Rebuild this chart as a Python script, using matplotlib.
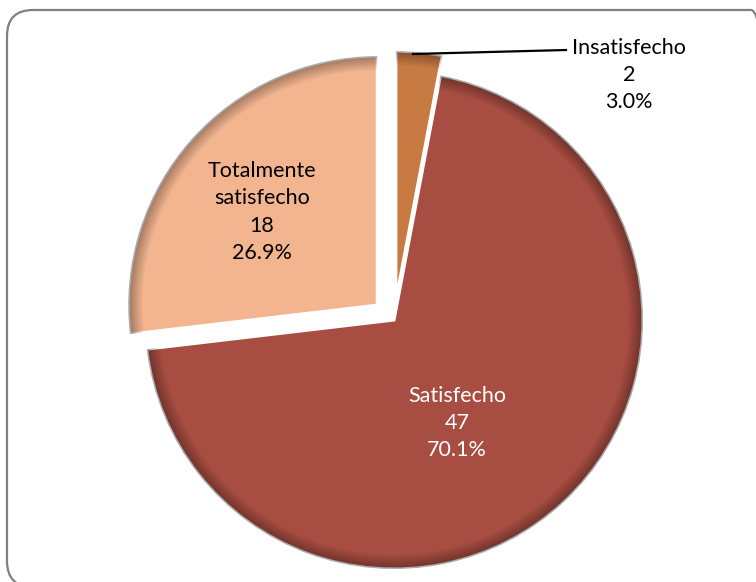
import matplotlib
matplotlib.use("Agg")
import numpy as np
import matplotlib.pyplot as plt
from matplotlib.patches import FancyBboxPatch

categories = ["Insatisfecho", "Satisfecho", "Totalmente\nsatisfecho"]
counts = [2, 47, 18]
percents = ["3.0%", "70.1%", "26.9%"]
colors = ["#C77A42", "#A84D41", "#F3B590"]
explode_frac = [0.08, 0.0, 0.09]

W, H = 756, 582
fig = plt.figure(figsize=(W / 100, H / 100), dpi=100)
ax = fig.add_axes([0, 0, 1, 1])

cx, cy, r = 394, H - 320, 249
explode = [e * r for e in explode_frac]
wedges, _ = ax.pie(counts, colors=colors, explode=explode, startangle=90,
                   counterclock=False, center=(cx, cy), radius=r,
                   wedgeprops=dict(edgecolor="white", linewidth=2.2))
ax.set_xlim(0, W)
ax.set_ylim(0, H)
ax.set_aspect("equal")
ax.axis("off")

# bevel-like shading near the rim of each wedge
yy, xx = np.mgrid[0:H, 0:W] + 0.5
for w in wedges:
    wx, wy = w.center
    d = np.hypot(xx - wx, yy - wy) / r
    alpha = 0.35 * np.clip((d - 0.94) / 0.06, 0, 1)
    img = np.zeros((H, W, 4))
    img[..., 3] = alpha
    im = ax.imshow(img, extent=(0, W, 0, H), origin="lower", zorder=w.get_zorder() + 0.1,
                   interpolation="bilinear")
    im.set_clip_path(w)
ax.set_xlim(0, W)
ax.set_ylim(0, H)

# frame
frame = FancyBboxPatch((7, H - 587), 770, 577,
                       boxstyle="round,pad=0,rounding_size=26",
                       fill=False, edgecolor="#808080", linewidth=1.6,
                       transform=ax.transData, clip_on=False)
ax.add_patch(frame)

font = "Lato"
fs = 15.5
ls = 1.45

ax.text(457, H - 423, f"{categories[1]}\n{counts[1]}\n{percents[1]}",
        ha="center", va="center", color="white", fontsize=fs,
        family=font, linespacing=ls, zorder=5)
ax.text(262, H - 212, f"{categories[2]}\n{counts[2]}\n{percents[2]}",
        ha="center", va="center", color="black", fontsize=fs,
        family=font, linespacing=ls, zorder=5)
ax.text(629, H - 75, f"{categories[0]}\n{counts[0]}\n{percents[0]}",
        ha="center", va="center", color="black", fontsize=fs,
        family=font, linespacing=ls, zorder=5)
ax.plot([413, 566], [H - 54, H - 50], color="black", linewidth=1.6, zorder=5)

fig.savefig("out.png", dpi=100)
